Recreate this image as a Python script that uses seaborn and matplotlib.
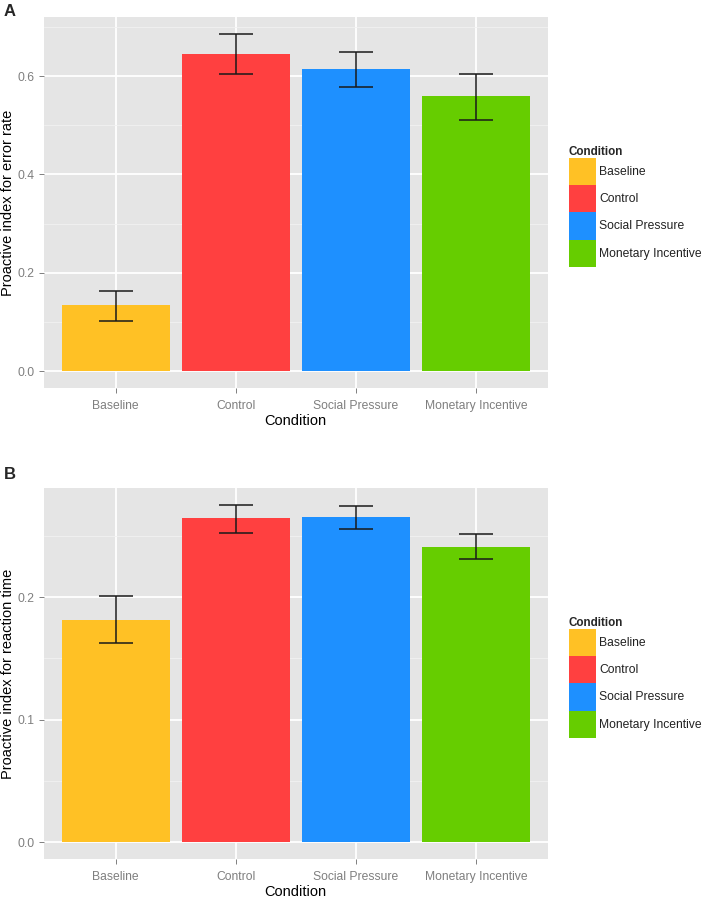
import numpy as np
import matplotlib
matplotlib.use("Agg")
import matplotlib.pyplot as plt
from matplotlib.patches import Patch
from matplotlib.ticker import MultipleLocator
import seaborn as sns

conditions = ["Baseline", "Control", "Social Pressure", "Monetary Incentive"]
colors = ["#FFC125", "#FF4040", "#1E90FF", "#66CD00"]

# panel A: error rate
err_mean = [0.134, 0.645, 0.615, 0.560]
err_low = [0.102, 0.604, 0.578, 0.511]
err_high = [0.164, 0.686, 0.650, 0.604]

# panel B: reaction time
rt_mean = [0.1815, 0.2644, 0.2652, 0.2413]
rt_low = [0.1622, 0.2522, 0.2555, 0.2312]
rt_high = [0.2006, 0.2753, 0.2745, 0.2514]

sns.set_style("white")
plt.rcParams["font.family"] = ["Liberation Sans", "DejaVu Sans"]

W, H = 708, 899
fig = plt.figure(figsize=(W / 100, H / 100), dpi=100)


def panel(top, bottom, means, lows, highs, ylabel, major, ylim, letter, letter_y):
    ax = fig.add_axes([43.5 / W, 1 - bottom / H, (548 - 43.5) / W, (bottom - top) / H])
    ax.set_facecolor("#E5E5E5")
    sns.barplot(x=conditions, y=means, hue=conditions, palette=colors, width=0.9,
                order=conditions, hue_order=conditions, legend=False, ax=ax,
                saturation=1, linewidth=0)
    x = np.arange(len(conditions))
    m = np.array(means)
    yerr = [m - np.array(lows), np.array(highs) - m]
    ax.errorbar(x, m, yerr=yerr, fmt="none", ecolor="#1A1A1A", elinewidth=1.1,
                capsize=12.5, capthick=1.1, zorder=5)
    ax.set_xlim(-0.6, len(conditions) - 0.4)
    ax.set_ylim(*ylim)
    ax.yaxis.set_major_locator(MultipleLocator(major))
    ax.yaxis.set_minor_locator(MultipleLocator(major / 2))
    ax.set_yticklabels([f"{t:.1f}" for t in ax.get_yticks()])
    ax.set_axisbelow(True)
    ax.grid(True, which="major", color="white", linewidth=1.3)
    ax.grid(True, which="minor", axis="y", color="#F2F2F2", linewidth=0.6)
    for s in ax.spines.values():
        s.set_visible(False)
    ax.tick_params(axis="both", which="major", length=3.5, width=0.7, color="#7F7F7F",
                   labelcolor="#7F7F7F", labelsize=8.7, pad=3, direction="out",
                   bottom=True, left=True)
    ax.tick_params(axis="x", which="major", pad=5)
    ax.tick_params(axis="y", which="minor", length=0)
    ax.set_xlabel("Condition", fontsize=10.5, color="black", labelpad=1.5)
    ax.set_ylabel(ylabel, fontsize=10.5, color="black", labelpad=2)
    handles = [Patch(facecolor=c, edgecolor="none", label=l) for c, l in zip(colors, conditions)]
    leg = ax.legend(handles=handles, title="Condition", loc="center left",
                    bbox_to_anchor=(1.041, 0.49), frameon=False, borderpad=0,
                    borderaxespad=0, fontsize=8.7, handlelength=2.3, handleheight=3.1,
                    labelspacing=0, handletextpad=0.25, alignment="left",
                    title_fontproperties={"weight": "bold", "size": 8.4})
    for t in leg.get_texts():
        t.set_color("#222222")
    fig.text(4 / W, 1 - letter_y / H, letter, fontsize=12, fontweight="bold", va="center")
    return ax


panel(17, 388, err_mean, err_low, err_high, "Proactive index for error rate",
      0.2, (-0.0343, 0.7203), "A", 11)
panel(488, 859, rt_mean, rt_low, rt_high, "Proactive index for reaction time",
      0.1, (-0.0138, 0.2891), "B", 475)

fig.savefig("out.png", dpi=100)
